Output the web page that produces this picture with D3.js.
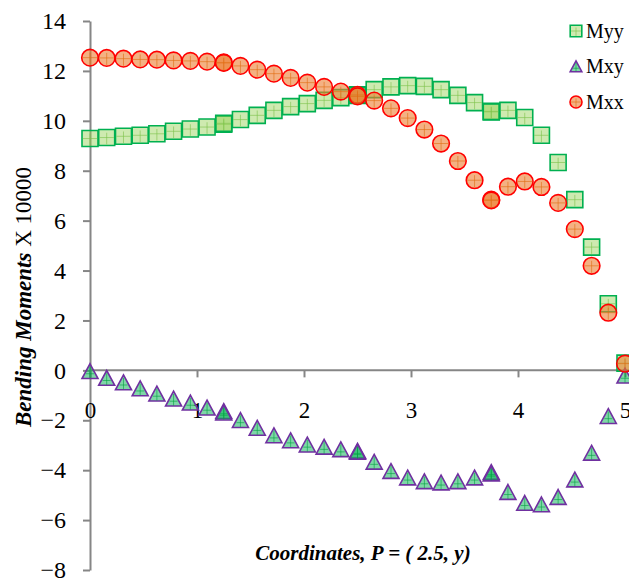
<!DOCTYPE html>
<html>
<head>
<meta charset="utf-8">
<script src="https://cdn.jsdelivr.net/npm/d3@7"></script>
<style>
  html, body { margin: 0; padding: 0; background: #fff; }
  svg { display: block; }
  svg text { font-family: 'Liberation Serif', 'Times New Roman', serif; }
</style>
</head>
<body>
<div id="chart"></div>
<script>
// x positions along the line P = (2.5, y); segment ends are repeated
const xValues = [
  0, 0.156, 0.313, 0.469, 0.625, 0.781, 0.938, 1.094, 1.25,
  1.25, 1.406, 1.563, 1.719, 1.875, 2.031, 2.188, 2.344, 2.5,
  2.5, 2.656, 2.813, 2.969, 3.125, 3.281, 3.438, 3.594, 3.75,
  3.75, 3.906, 4.063, 4.219, 4.375, 4.531, 4.688, 4.844, 5
];

const myy = [
  9.29, 9.33, 9.38, 9.42, 9.48, 9.58, 9.67, 9.75, 9.86,
  9.90, 10.05, 10.22, 10.42, 10.57, 10.69, 10.82, 10.93, 11.04,
  11.02, 11.25, 11.36, 11.41, 11.38, 11.25, 11.02, 10.73, 10.38,
  10.36, 10.42, 10.13, 9.42, 8.33, 6.84, 4.94, 2.67, 0.29
];

const mxy = [
  -0.04, -0.31, -0.49, -0.73, -0.94, -1.14, -1.30, -1.50, -1.64,
  -1.70, -2.00, -2.31, -2.61, -2.81, -2.98, -3.07, -3.17, -3.23,
  -3.27, -3.67, -4.04, -4.30, -4.45, -4.50, -4.45, -4.30, -4.08,
  -4.14, -4.88, -5.32, -5.38, -5.08, -4.38, -3.31, -1.84, -0.22
];

const mxx = [
  12.53, 12.52, 12.49, 12.46, 12.45, 12.42, 12.40, 12.37, 12.34,
  12.32, 12.20, 12.05, 11.89, 11.72, 11.53, 11.36, 11.17, 11.04,
  10.98, 10.81, 10.50, 10.11, 9.65, 9.09, 8.39, 7.62, 6.84,
  6.81, 7.36, 7.57, 7.35, 6.71, 5.66, 4.19, 2.31, 0.27
];

const yTicks = [-8, -6, -4, -2, 0, 2, 4, 6, 8, 10, 12, 14];
const xTicks = [0, 1, 2, 3, 4, 5];

const width = 629;
const height = 584;
const axisColor = "#868686";
const serif = "'Liberation Serif', 'Times New Roman', serif";

const series = [
  { name: "Myy", values: myy, shape: "square", fill: "#92d050", fillOpacity: 0.45, stroke: "#00b050", cross: "#7cc24a" },
  { name: "Mxy", values: mxy, shape: "triangle", fill: "#00b050", fillOpacity: 0.5, stroke: "#7030a0", cross: "#00a040" },
  { name: "Mxx", values: mxx, shape: "circle", fill: "#ed7d31", fillOpacity: 0.6, stroke: "#ff0000", cross: "#e06a10" }
];

const x = d3.scaleLinear().domain([0, 5]).range([90, 625]);
const y = d3.scaleLinear().domain([-8, 14]).range([570, 21]);

const svg = d3.select("#chart")
  .append("svg")
  .attr("width", width)
  .attr("height", height);

// y axis
const yAxis = svg.append("g")
  .attr("transform", `translate(${x(0)},0)`)
  .call(d3.axisLeft(y).tickValues(yTicks).tickFormat(d3.format("d"))
    .tickSizeInner(7).tickSizeOuter(0).tickPadding(17));
yAxis.selectAll("text")
  .style("font-family", serif)
  .style("font-size", "24px")
  .attr("fill", "#000");

// x axis sits at y = 0
const xAxis = svg.append("g")
  .attr("transform", `translate(0,${y(0)})`)
  .call(d3.axisBottom(x).tickValues(xTicks).tickFormat(d3.format("d"))
    .tickSizeInner(7).tickSizeOuter(0).tickPadding(24));
xAxis.selectAll("text")
  .style("font-family", serif)
  .style("font-size", "23px")
  .attr("fill", "#000");
// the axis line runs on to the right edge
xAxis.select(".domain").attr("d", `M${x(0)},0H${width}`);

svg.selectAll(".domain, .tick line")
  .attr("stroke", axisColor)
  .attr("stroke-width", 2);

// marker shapes
function shapePath(shape, s) {
  if (shape === "square") return `M${-s},${-s}H${s}V${s}H${-s}Z`;
  if (shape === "triangle") return `M0,${-s * 0.95}L${s},${s * 0.9}L${-s},${s * 0.9}Z`;
  return d3.arc()({ innerRadius: 0, outerRadius: s, startAngle: 0, endAngle: 2 * Math.PI });
}

function drawMarker(g, d, size) {
  g.append("path")
    .attr("d", shapePath(d.shape, size))
    .attr("fill", d.fill)
    .attr("fill-opacity", d.fillOpacity)
    .attr("stroke", d.stroke)
    .attr("stroke-width", 1.6);
  const h = d.shape === "triangle" ? size * 0.5 : size * 0.9;
  g.append("path")
    .attr("d", `M${-h},${d.shape === "triangle" ? size * 0.3 : 0}H${h}M0,${-size * 0.6}V${size * 0.85}`)
    .attr("stroke", d.cross)
    .attr("stroke-opacity", 0.6)
    .attr("stroke-width", 1);
}

const plot = svg.append("g");
series.forEach(s => {
  const pts = xValues.map((xv, i) => ({ x: xv, v: s.values[i] }));
  plot.append("g")
    .selectAll("g")
    .data(pts)
    .join("g")
    .attr("transform", d => `translate(${x(d.x)},${y(d.v)})`)
    .each(function () {
      drawMarker(d3.select(this), s, s.shape === "circle" ? 8.3 : 8);
    });
});

// legend
const legend = svg.append("g");
series.forEach((s, i) => {
  const cy = 31 + i * 35.5;
  const g = legend.append("g").attr("transform", `translate(576,${cy})`);
  drawMarker(g, s, s.shape === "circle" ? 6 : 5.8);
  legend.append("text")
    .attr("x", 586)
    .attr("y", cy + 6.5)
    .style("font-family", serif)
    .style("font-size", "20px")
    .attr("fill", "#000")
    .text(s.name);
});

// y axis title
const yTitle = svg.append("text")
  .attr("transform", "translate(31,297) rotate(-90)")
  .attr("text-anchor", "middle")
  .style("font-family", serif)
  .style("font-size", "23px")
  .attr("fill", "#000");
yTitle.append("tspan").attr("font-weight", "bold").attr("font-style", "italic").text("Bending Moments");
yTitle.append("tspan").text(" X 10000");

// x axis title
svg.append("text")
  .attr("x", 363)
  .attr("y", 560)
  .attr("text-anchor", "middle")
  .style("font-family", serif)
  .style("font-size", "21px")
  .attr("font-weight", "bold")
  .attr("font-style", "italic")
  .attr("fill", "#000")
  .text("Coordinates, P = ( 2.5, y)");
</script>
</body>
</html>
